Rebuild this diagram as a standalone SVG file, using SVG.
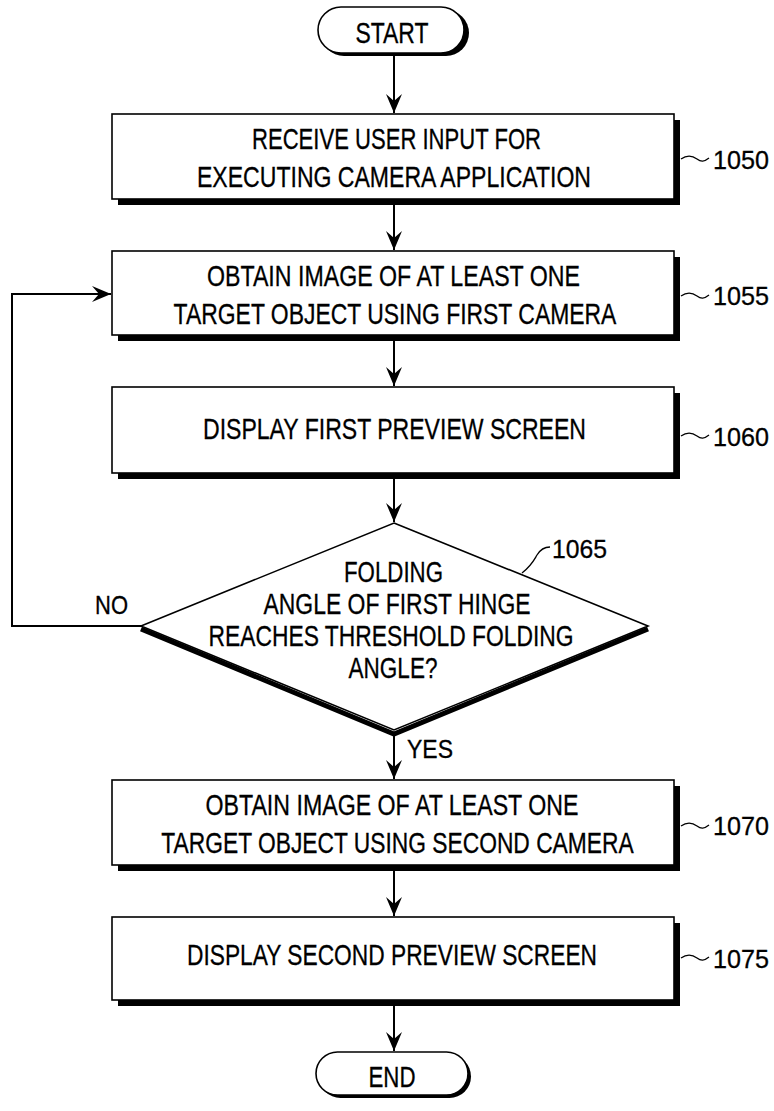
<svg xmlns="http://www.w3.org/2000/svg" width="774" height="1111" viewBox="0 0 774 1111">
<style>
  .box{fill:#fff;stroke:#000;stroke-width:1.6}
  .sh{fill:#000}
  .t{font-family:"Liberation Sans",Arial,sans-serif;font-size:29px;fill:#000;stroke:#000;stroke-width:0.3}
  .lbl{font-family:"Liberation Sans",Arial,sans-serif;font-size:26px;fill:#000;stroke:#000;stroke-width:0.3}
  .ln{fill:none;stroke:#000;stroke-width:2}
  .ld{fill:none;stroke:#000;stroke-width:1.3}
</style>
<defs>
  <marker id="a" viewBox="-20 -10 21 20" refX="0" refY="0" markerWidth="21" markerHeight="20" markerUnits="userSpaceOnUse" orient="auto">
    <path d="M0,0 L-19,-8 L-12,0 L-19,8 Z" fill="#000"/>
  </marker>
</defs>

<g id="start">
  <rect x="321" y="10" width="148" height="46" rx="23" class="sh"/>
  <rect x="318" y="7" width="146" height="46" rx="23" class="box"/>
  <text class="t" text-anchor="middle" x="392" y="43" font-size="27" textLength="73" lengthAdjust="spacingAndGlyphs">START</text>
</g>

<g id="n1050">
  <rect x="118" y="120" width="562" height="85" class="sh"/>
  <rect x="112" y="114" width="562" height="85" class="box"/>
  <text class="t" text-anchor="middle" x="396.5" y="149" textLength="289" lengthAdjust="spacingAndGlyphs">RECEIVE USER INPUT FOR</text>
  <text class="t" text-anchor="middle" x="394" y="187" textLength="394" lengthAdjust="spacingAndGlyphs">EXECUTING CAMERA APPLICATION</text>
  <path class="ld" d="M681,159 C688,154 693,156 697,159 S704,162 709,158"/>
  <text class="lbl" x="713" y="169" textLength="56" lengthAdjust="spacingAndGlyphs">1050</text>
</g>

<g id="n1055">
  <rect x="118" y="257" width="562" height="84" class="sh"/>
  <rect x="112" y="251" width="562" height="84" class="box"/>
  <text class="t" text-anchor="middle" x="393.5" y="286" textLength="373" lengthAdjust="spacingAndGlyphs">OBTAIN IMAGE OF AT LEAST ONE</text>
  <text class="t" text-anchor="middle" transform="matrix(0.791 0 0 1 395 324)" x="0" y="0">TARGET OBJECT USING FIRST CAMERA</text>
  <path class="ld" d="M681,296 C688,291 693,293 697,296 S704,299 709,295"/>
  <text class="lbl" x="713" y="305" textLength="56" lengthAdjust="spacingAndGlyphs">1055</text>
</g>

<g id="n1060">
  <rect x="118" y="393" width="562" height="86" class="sh"/>
  <rect x="112" y="387" width="562" height="86" class="box"/>
  <text class="t" text-anchor="middle" x="394.5" y="439" textLength="383" lengthAdjust="spacingAndGlyphs">DISPLAY FIRST PREVIEW SCREEN</text>
  <path class="ld" d="M681,436 C688,431 693,433 697,436 S704,439 709,435"/>
  <text class="lbl" x="713" y="446" textLength="56" lengthAdjust="spacingAndGlyphs">1060</text>
</g>

<g id="n1065">
  <polyline points="141,629 394,734 648,629" fill="none" stroke="#000" stroke-width="5" stroke-linejoin="miter"/>
  <polygon points="394,523 648,626 394,730 141,626" class="box"/>
  <text class="t" text-anchor="middle" x="393.5" y="582" textLength="99" lengthAdjust="spacingAndGlyphs">FOLDING</text>
  <text class="t" text-anchor="middle" x="397" y="614" textLength="267" lengthAdjust="spacingAndGlyphs">ANGLE OF FIRST HINGE</text>
  <text class="t" text-anchor="middle" x="391" y="646" textLength="365" lengthAdjust="spacingAndGlyphs">REACHES THRESHOLD FOLDING</text>
  <text class="t" text-anchor="middle" x="393" y="678" textLength="89" lengthAdjust="spacingAndGlyphs">ANGLE?</text>
  <path class="ld" d="M522,573 C532,565 534,560 537,555 S544,547 550,547"/>
  <text class="lbl" x="552" y="558" textLength="55" lengthAdjust="spacingAndGlyphs">1065</text>
</g>

<g id="n1070">
  <rect x="118" y="786" width="562" height="85" class="sh"/>
  <rect x="112" y="780" width="562" height="85" class="box"/>
  <text class="t" text-anchor="middle" x="392" y="815" textLength="373" lengthAdjust="spacingAndGlyphs">OBTAIN IMAGE OF AT LEAST ONE</text>
  <text class="t" text-anchor="middle" transform="matrix(0.786 0 0 1 397.5 853)" x="0" y="0">TARGET OBJECT USING SECOND CAMERA</text>
  <path class="ld" d="M681,826 C688,821 693,823 697,826 S704,829 709,825"/>
  <text class="lbl" x="713" y="835" textLength="56" lengthAdjust="spacingAndGlyphs">1070</text>
</g>

<g id="n1075">
  <rect x="118" y="923" width="562" height="83" class="sh"/>
  <rect x="112" y="917" width="562" height="83" class="box"/>
  <text class="t" text-anchor="middle" x="392" y="965" textLength="410" lengthAdjust="spacingAndGlyphs">DISPLAY SECOND PREVIEW SCREEN</text>
  <path class="ld" d="M681,958 C688,953 693,955 697,958 S704,961 709,957"/>
  <text class="lbl" x="713" y="968" textLength="56" lengthAdjust="spacingAndGlyphs">1075</text>
</g>

<g id="end">
  <rect x="319" y="1055" width="152" height="43" rx="21.5" class="sh"/>
  <rect x="316" y="1052" width="152" height="43" rx="21.5" class="box"/>
  <text class="t" text-anchor="middle" x="392" y="1087" font-size="27" textLength="47" lengthAdjust="spacingAndGlyphs">END</text>
</g>

<g id="connectors">
  <line class="ln" x1="394" y1="56" x2="394" y2="113" marker-end="url(#a)"/>
  <line class="ln" x1="394" y1="205" x2="394" y2="250" marker-end="url(#a)"/>
  <line class="ln" x1="394" y1="341" x2="394" y2="386" marker-end="url(#a)"/>
  <line class="ln" x1="394" y1="479" x2="394" y2="522" marker-end="url(#a)"/>
  <line class="ln" x1="394" y1="734" x2="394" y2="779" marker-end="url(#a)"/>
  <line class="ln" x1="394" y1="871" x2="394" y2="916" marker-end="url(#a)"/>
  <line class="ln" x1="394" y1="1006" x2="394" y2="1051" marker-end="url(#a)"/>
  <polyline class="ln" points="141,626 12,626 12,294 111,294" marker-end="url(#a)"/>
  <text class="lbl" x="95" y="614" font-size="28" textLength="33" lengthAdjust="spacingAndGlyphs">NO</text>
  <text class="lbl" x="407" y="758" font-size="28" textLength="46" lengthAdjust="spacingAndGlyphs">YES</text>
</g>
</svg>
